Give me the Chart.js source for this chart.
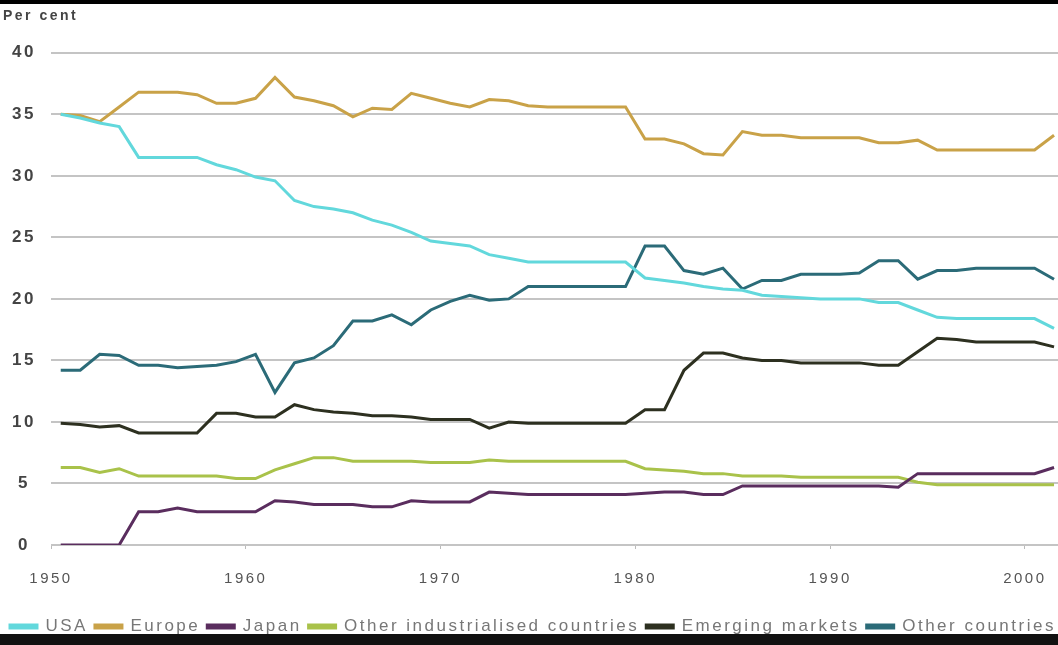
<!DOCTYPE html>
<html>
<head>
<meta charset="utf-8">
<script src="https://cdn.jsdelivr.net/npm/chart.js@4"></script>
<style>
  html, body { margin: 0; padding: 0; background: #fff; overflow: hidden; }
  #wrap { position: relative; width: 1058px; height: 645px; overflow: hidden; }
  #wrap canvas { position: absolute; left: 0; top: 0; }
  #topbar { position: absolute; left: 0; top: 0; width: 1058px; height: 4px; background: #000; }
  #botbar { position: absolute; left: 0; bottom: 0; width: 1058px; height: 11px; background: #111; }
</style>
</head>
<body>
<div id="wrap">
  <!-- the original export is cut off on the right, so the canvas runs past the frame -->
  <canvas id="shareChart" width="1130" height="645"></canvas>
  <div id="topbar"></div>
  <div id="botbar"></div>
</div>
<script>
// years (one slot per year)
const years = [1950, 1951, 1952, 1953, 1954, 1955, 1956, 1957, 1958, 1959,
               1960, 1961, 1962, 1963, 1964, 1965, 1966, 1967, 1968, 1969,
               1970, 1971, 1972, 1973, 1974, 1975, 1976, 1977, 1978, 1979,
               1980, 1981, 1982, 1983, 1984, 1985, 1986, 1987, 1988, 1989,
               1990, 1991, 1992, 1993, 1994, 1995, 1996, 1997, 1998, 1999,
               2000, 2001];

const usa = [35.0, 34.7, 34.3, 34.0, 31.5, 31.5, 31.5, 31.5, 30.9, 30.5,
             29.9, 29.6, 28.0, 27.5, 27.3, 27.0, 26.4, 26.0, 25.4, 24.7,
             24.5, 24.3, 23.6, 23.3, 23.0, 23.0, 23.0, 23.0, 23.0, 23.0,
             21.7, 21.5, 21.3, 21.0, 20.8, 20.7, 20.3, 20.2, 20.1, 20.0,
             20.0, 20.0, 19.7, 19.7, 19.1, 18.5, 18.4, 18.4, 18.4, 18.4,
             18.4, 17.6];
const europe = [35.0, 34.9, 34.4, 35.6, 36.8, 36.8, 36.8, 36.6, 35.9, 35.9,
                36.3, 38.0, 36.4, 36.1, 35.7, 34.8, 35.5, 35.4, 36.7, 36.3,
                35.9, 35.6, 36.2, 36.1, 35.7, 35.6, 35.6, 35.6, 35.6, 35.6,
                33.0, 33.0, 32.6, 31.8, 31.7, 33.6, 33.3, 33.3, 33.1, 33.1,
                33.1, 33.1, 32.7, 32.7, 32.9, 32.1, 32.1, 32.1, 32.1, 32.1,
                32.1, 33.3];
const japan = [0, 0, 0, 0, 2.7, 2.7, 3.0, 2.7, 2.7, 2.7,
               2.7, 3.6, 3.5, 3.3, 3.3, 3.3, 3.1, 3.1, 3.6, 3.5,
               3.5, 3.5, 4.3, 4.2, 4.1, 4.1, 4.1, 4.1, 4.1, 4.1,
               4.2, 4.3, 4.3, 4.1, 4.1, 4.8, 4.8, 4.8, 4.8, 4.8,
               4.8, 4.8, 4.8, 4.7, 5.8, 5.8, 5.8, 5.8, 5.8, 5.8,
               5.8, 6.3];
const otherIndustrialised = [6.3, 6.3, 5.9, 6.2, 5.6, 5.6, 5.6, 5.6, 5.6, 5.4,
                             5.4, 6.1, 6.6, 7.1, 7.1, 6.8, 6.8, 6.8, 6.8, 6.7,
                             6.7, 6.7, 6.9, 6.8, 6.8, 6.8, 6.8, 6.8, 6.8, 6.8,
                             6.2, 6.1, 6.0, 5.8, 5.8, 5.6, 5.6, 5.6, 5.5, 5.5,
                             5.5, 5.5, 5.5, 5.5, 5.1, 4.9, 4.9, 4.9, 4.9, 4.9,
                             4.9, 4.9];
const emerging = [9.9, 9.8, 9.6, 9.7, 9.1, 9.1, 9.1, 9.1, 10.7, 10.7,
                  10.4, 10.4, 11.4, 11.0, 10.8, 10.7, 10.5, 10.5, 10.4, 10.2,
                  10.2, 10.2, 9.5, 10.0, 9.9, 9.9, 9.9, 9.9, 9.9, 9.9,
                  11.0, 11.0, 14.2, 15.6, 15.6, 15.2, 15.0, 15.0, 14.8, 14.8,
                  14.8, 14.8, 14.6, 14.6, 15.7, 16.8, 16.7, 16.5, 16.5, 16.5,
                  16.5, 16.1];
const otherCountries = [14.2, 14.2, 15.5, 15.4, 14.6, 14.6, 14.4, 14.5, 14.6, 14.9,
                        15.5, 12.4, 14.8, 15.2, 16.2, 18.2, 18.2, 18.7, 17.9, 19.1,
                        19.8, 20.3, 19.9, 20.0, 21.0, 21.0, 21.0, 21.0, 21.0, 21.0,
                        24.3, 24.3, 22.3, 22.0, 22.5, 20.8, 21.5, 21.5, 22.0, 22.0,
                        22.0, 22.1, 23.1, 23.1, 21.6, 22.3, 22.3, 22.5, 22.5, 22.5,
                        22.5, 21.6];

const seriesNames = ['USA', 'Europe', 'Japan', 'Other industrialised countries', 'Emerging markets', 'Other countries'];
const seriesValues = [usa, europe, japan, otherIndustrialised, emerging, otherCountries];
const seriesColors = ['#62d8dc', '#c9a248', '#5a2d5e', '#a9c24a', '#2d3020', '#2b6b78'];

// each year sits in the middle of its slot, decade ticks on the slot edges
function toPoints(values) {
    return values.map((v, i) => ({x: years[i] + 0.5, y: v}));
}

const datasets = seriesNames.map((name, i) => ({
    label: name,
    data: toPoints(seriesValues[i]),
    borderColor: seriesColors[i],
    backgroundColor: seriesColors[i],
    borderWidth: 3,
    pointRadius: 0,
    tension: 0
}));

// wide spaced text like the original export
const spacing = {
    id: 'spacing',
    beforeLayout(chart) { chart.ctx.letterSpacing = '2.5px'; },
    beforeDraw(chart) { chart.ctx.letterSpacing = '2.5px'; }
};

const ctx = document.getElementById('shareChart').getContext('2d');
const shareChart = new Chart(ctx, {
    type: 'line',
    data: { datasets: datasets },
    options: {
        responsive: false,
        animation: false,
        layout: { padding: { top: 4, left: 3, right: 0, bottom: 0 } },
        plugins: {
            title: {
                display: true,
                text: 'Per cent',
                align: 'start',
                color: '#444',
                font: { family: 'Arial', size: 14, weight: 'bold' },
                padding: { top: 4, bottom: 28 }
            },
            legend: {
                position: 'bottom',
                align: 'start',
                labels: {
                    boxWidth: 27,
                    boxHeight: 3,
                    color: '#777',
                    padding: 7,
                    font: { family: 'Arial', size: 17 }
                }
            },
            tooltip: { enabled: false }
        },
        scales: {
            x: {
                type: 'linear',
                min: 1950,
                max: 2005.4,
                afterFit(scale) { scale.height = 66; },
                grid: { drawOnChartArea: false, drawTicks: true, tickLength: 4, color: '#bbb' },
                border: { display: false },
                ticks: {
                    stepSize: 10,
                    includeBounds: false,
                    maxRotation: 0,
                    padding: 21,
                    color: '#555',
                    font: { family: 'Arial', size: 15 },
                    callback: (v) => String(v)
                }
            },
            y: {
                min: 0,
                max: 40,
                afterFit(scale) { scale.width = 48; },
                grid: { color: '#c4c4c4', lineWidth: 2, drawTicks: false },
                border: { display: false },
                ticks: {
                    stepSize: 5,
                    padding: 15,
                    crossAlign: 'center',
                    color: '#444',
                    font: { family: 'Arial', size: 17, weight: 'bold' }
                }
            }
        }
    },
    plugins: [spacing]
});
</script>
</body>
</html>
